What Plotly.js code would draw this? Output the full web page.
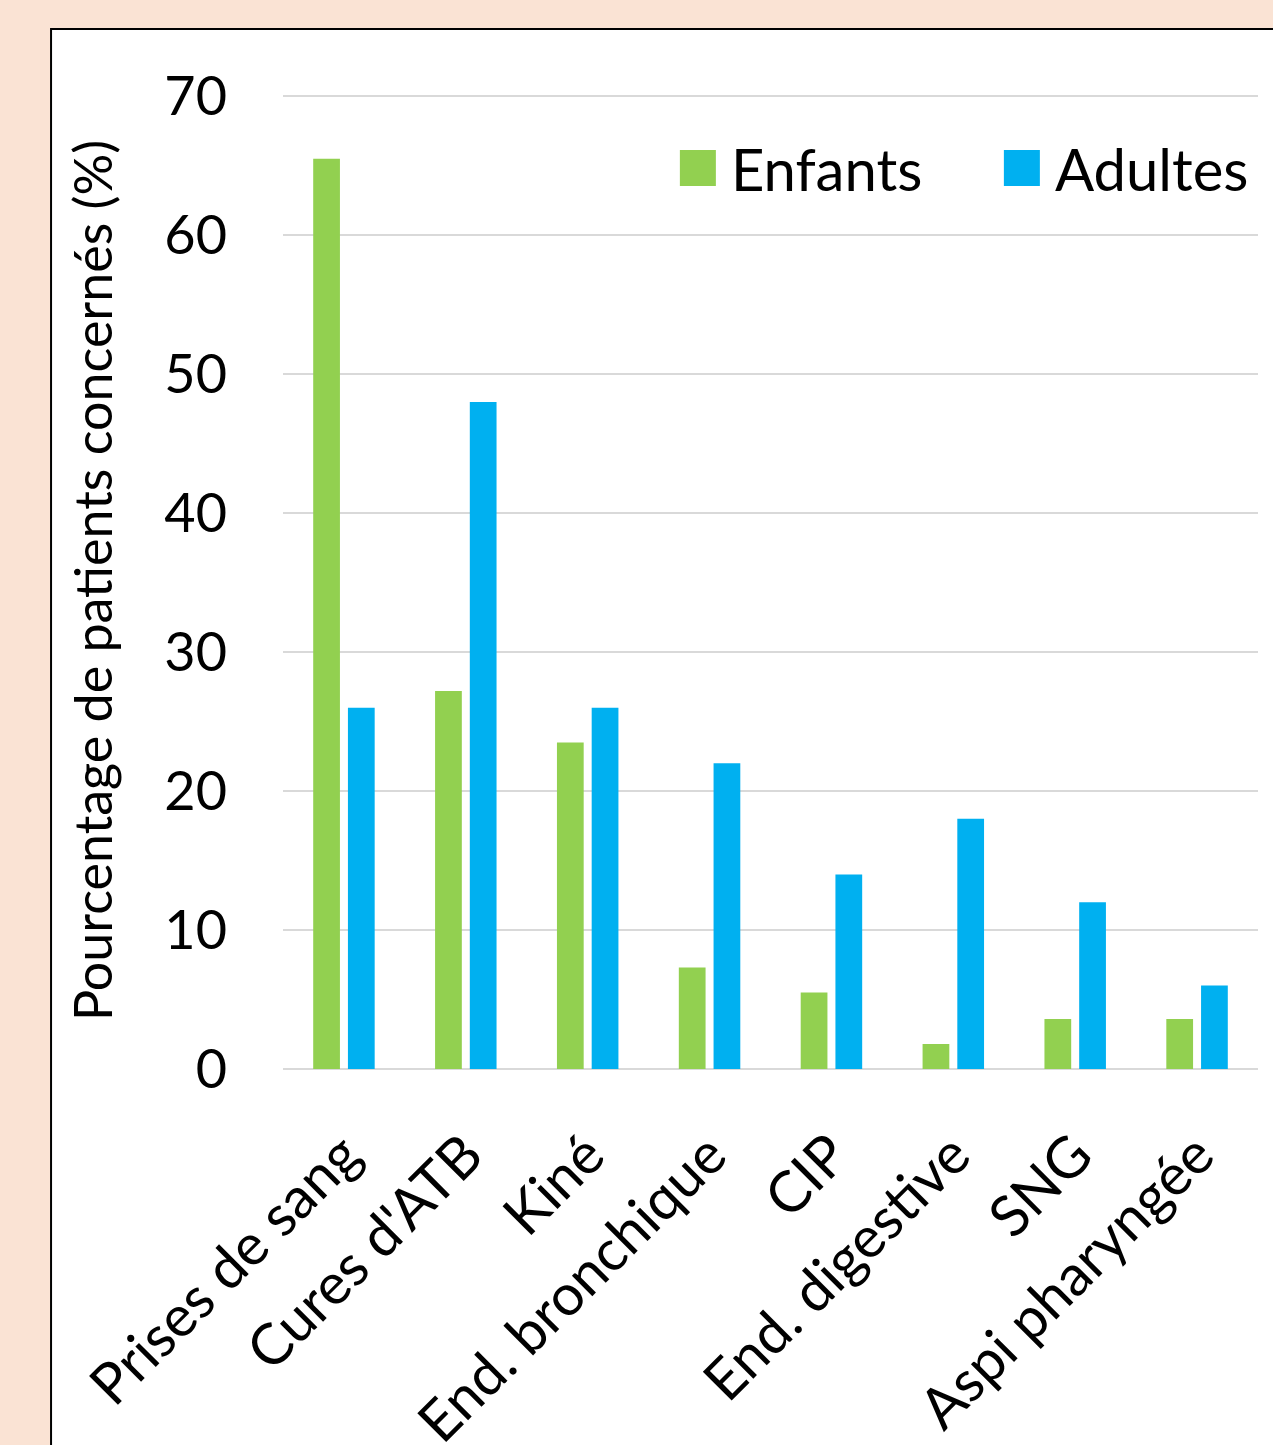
<!DOCTYPE html>
<html>
<head>
<meta charset="utf-8">
<script src="https://cdn.plot.ly/plotly-3.0.1.min.js"></script>
<style>
html,body{margin:0;padding:0;background:#FAE3D4;}
#chart{width:1273px;height:1445px;}
.legend .legendpoints path{transform:translate(20px,0px) scale(3);}
</style>
</head>
<body>
<div id="chart"></div>
<script>
const categories = ["Prises de sang", "Cures d'ATB", "Kiné", "End. bronchique", "CIP", "End. digestive", "SNG", "Aspi pharyngée"];
const enfants = [65.5, 27.2, 23.5, 7.3, 5.5, 1.8, 3.6, 3.6];
const adultes = [26, 48, 26, 22, 14, 18, 12, 6];
const yTicks = [0, 10, 20, 30, 40, 50, 60, 70];

const FONT = "Lato, 'Open Sans', sans-serif";

const traces = [
  {type: 'bar', name: 'Enfants', x: categories, y: enfants, marker: {color: '#92D050'}},
  {type: 'bar', name: 'Adultes', x: categories, y: adultes, marker: {color: '#00B0F0'}}
];

const layout = {
  width: 1273, height: 1445,
  margin: {l: 283, r: 15, t: 92, b: 376, autoexpand: false},
  paper_bgcolor: '#FAE3D4',
  plot_bgcolor: 'rgba(0,0,0,0)',
  barmode: 'group',
  bargap: 0.43,
  bargroupgap: 0.23,
  font: {family: FONT, color: '#000000', size: 52},
  showlegend: true,
  legend: {
    orientation: 'h', x: 0.405, xanchor: 'left', y: 0.922, yanchor: 'middle',
    font: {size: 58, family: FONT}, bgcolor: 'rgba(0,0,0,0)',
    itemwidth: 43, entrywidth: 266, entrywidthmode: 'pixels', tracegroupgap: 0
  },
  xaxis: {
    tickangle: -45, tickfont: {size: 57, family: FONT},
    showgrid: false, showline: false, ticks: '', ticklabelstandoff: 40,
    automargin: false
  },
  yaxis: {
    range: [0, 70.3], tickvals: yTicks, ticktext: yTicks.map(String),
    tickfont: {size: 54, family: FONT},
    showgrid: true, gridcolor: '#D9D9D9', gridwidth: 2,
    zeroline: true, zerolinecolor: '#D9D9D9', zerolinewidth: 2,
    showline: false, ticks: '', ticklabelstandoff: 55,
    automargin: false,
    title: {text: 'Pourcentage de patients concernés (%)', font: {size: 52, family: FONT}, standoff: 35}
  },
  shapes: [{
    type: 'rect', xref: 'paper', yref: 'paper', layer: 'below',
    x0: -0.2379, x1: 1.05, y0: -0.45, y1: 1.0645,
    fillcolor: '#FFFFFF', line: {color: '#000000', width: 2}
  }]
};

Plotly.newPlot('chart', traces, layout, {displayModeBar: false, staticPlot: true});
</script>
</body>
</html>
